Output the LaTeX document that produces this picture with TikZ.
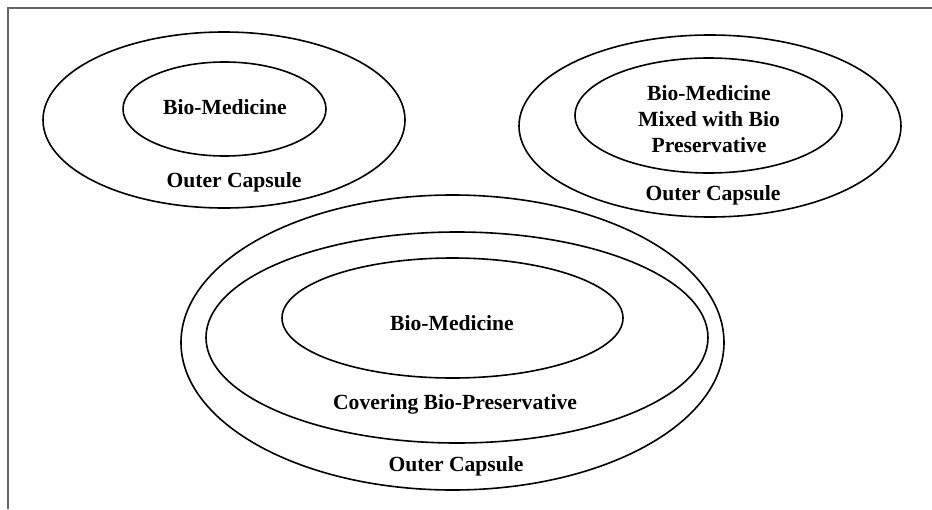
\documentclass[tikz,border=0pt]{standalone}
\usepackage{fontspec}
\setmainfont{Liberation Serif}
\usepackage{tikz}
\usetikzlibrary{positioning}

\begin{document}
\begin{tikzpicture}[x=0.5pt,y=0.5pt,
    capsule/.style={draw,line width=0.8pt},
    lbl/.style={font=\fontsize{10.8}{13}\selectfont\bfseries,align=center,inner sep=0pt}]
  \useasboundingbox (0,0) rectangle (932,-509);
  \draw[gray!80!black,line width=0.8pt] (8,-509) -- (8,-8) -- (932,-8);
  % left pill
  \draw[capsule] (224,-120) ellipse [x radius=181,y radius=88];
  \draw[capsule] (224.5,-109) ellipse [x radius=101.5,y radius=47];
  \node[lbl] (medA) at (225,-107) {Bio-Medicine};
  \node[lbl] (outA) at (234,-182) {Outer Capsule};
  % right pill
  \draw[capsule] (710,-126) ellipse [x radius=191,y radius=91];
  \draw[capsule] (708.5,-115.5) ellipse [x radius=133.5,y radius=57.5];
  \node[lbl] (medB) at (709,-119) {Bio-Medicine\\Mixed with Bio\\Preservative};
  \node[lbl] (outB) at (713,-195) {Outer Capsule};
  % bottom pill
  \draw[capsule] (452.5,-342.5) ellipse [x radius=271.5,y radius=147.5];
  \draw[capsule] (457,-337.5) ellipse [x radius=251,y radius=105.5];
  \draw[capsule] (452.5,-318) ellipse [x radius=170.5,y radius=60];
  \node[lbl] (medC) at (452,-323) {Bio-Medicine};
  \node[lbl] (cover) at (455,-404) {Covering Bio-Preservative};
  \node[lbl] (outC) at (456,-466) {Outer Capsule};
\end{tikzpicture}
\end{document}
